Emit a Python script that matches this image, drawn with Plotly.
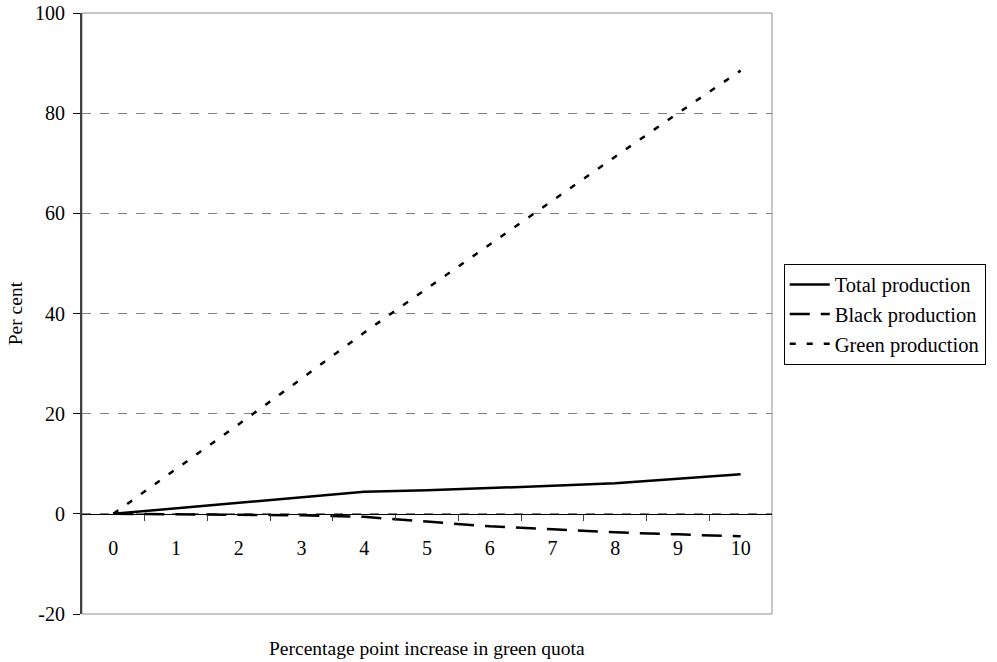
import plotly.graph_objects as go

quota_increase = [0, 1, 2, 3, 4, 5, 6, 7, 8, 9, 10]
total_production = [0, 1.1, 2.2, 3.3, 4.4, 4.7, 5.1, 5.6, 6.1, 7.0, 7.9]
black_production = [0, -0.1, -0.2, -0.3, -0.6, -1.6, -2.5, -3.1, -3.7, -4.1, -4.5]
green_production = [0, 8.9, 17.9, 27.0, 36.2, 45.0, 53.8, 62.6, 71.3, 80.0, 88.5]
y_ticks = [-20, 0, 20, 40, 60, 80, 100]
y_tick_labels = ["-20", "0", "20", "40", "60", "80", "100"]

FONT = "Liberation Serif, Times New Roman, serif"

fig = go.Figure()
fig.add_trace(go.Scatter(x=quota_increase, y=total_production, mode="lines",
                         name="Total production",
                         line=dict(color="black", width=2.5)))
fig.add_trace(go.Scatter(x=quota_increase, y=black_production, mode="lines",
                         name="Black production",
                         line=dict(color="black", width=2.5, dash="20px,11px")))
fig.add_trace(go.Scatter(x=quota_increase, y=green_production, mode="lines",
                         name="Green production",
                         line=dict(color="black", width=2.5, dash="6px,11px")))

fig.update_layout(
    width=997, height=662,
    margin=dict(l=82, r=225, t=13, b=48, autoexpand=False),
    paper_bgcolor="white", plot_bgcolor="white",
    font=dict(family=FONT, size=20, color="black"),
    showlegend=True,
    legend=dict(x=1.017, y=0.583, xanchor="left", yanchor="top",
                bordercolor="black", borderwidth=1, bgcolor="white",
                font=dict(size=20.5, family=FONT), tracegroupgap=0,
                itemwidth=40),
    xaxis=dict(range=[-0.5, 10.5], tickvals=quota_increase,
               ticktext=[str(v) for v in quota_increase],
               ticks="", showgrid=False, zeroline=False,
               showline=True, linecolor="black", linewidth=1,
               anchor="free", position=20 / 120,
               tickfont=dict(size=20), ticklabelstandoff=16,
               minor=dict(tickvals=[v + 0.5 for v in quota_increase[:-1]],
                          ticks="outside", ticklen=6, tickcolor="#404040",
                          showgrid=False)),
    yaxis=dict(range=[-20, 100], tickvals=y_ticks, ticktext=y_tick_labels,
               ticks="outside", ticklen=7, tickcolor="black", tickwidth=1,
               showline=True, linecolor="#404040", linewidth=2,
               showgrid=True, gridcolor="#808080", griddash="dash", gridwidth=1,
               zeroline=False, tickfont=dict(size=20), ticklabelstandoff=4,
               ticklabeloverflow="allow"),
    shapes=[dict(type="rect", xref="paper", yref="paper", x0=0, x1=1, y0=0, y1=1,
                 line=dict(color="#909090", width=1), layer="below")],
    annotations=[
        dict(text="Percentage point increase in green quota", xref="paper", yref="paper",
             x=0.5, y=-0.057, xanchor="center", yanchor="middle", showarrow=False,
             font=dict(size=19.5, family=FONT)),
        dict(text="Per cent", xref="paper", yref="paper", x=-0.096, y=0.5,
             xanchor="center", yanchor="middle", textangle=-90, showarrow=False,
             font=dict(size=19.5, family=FONT)),
    ],
)

fig.write_html("out.html", config={"displayModeBar": False},
               post_script="document.body.style.margin='0';")
